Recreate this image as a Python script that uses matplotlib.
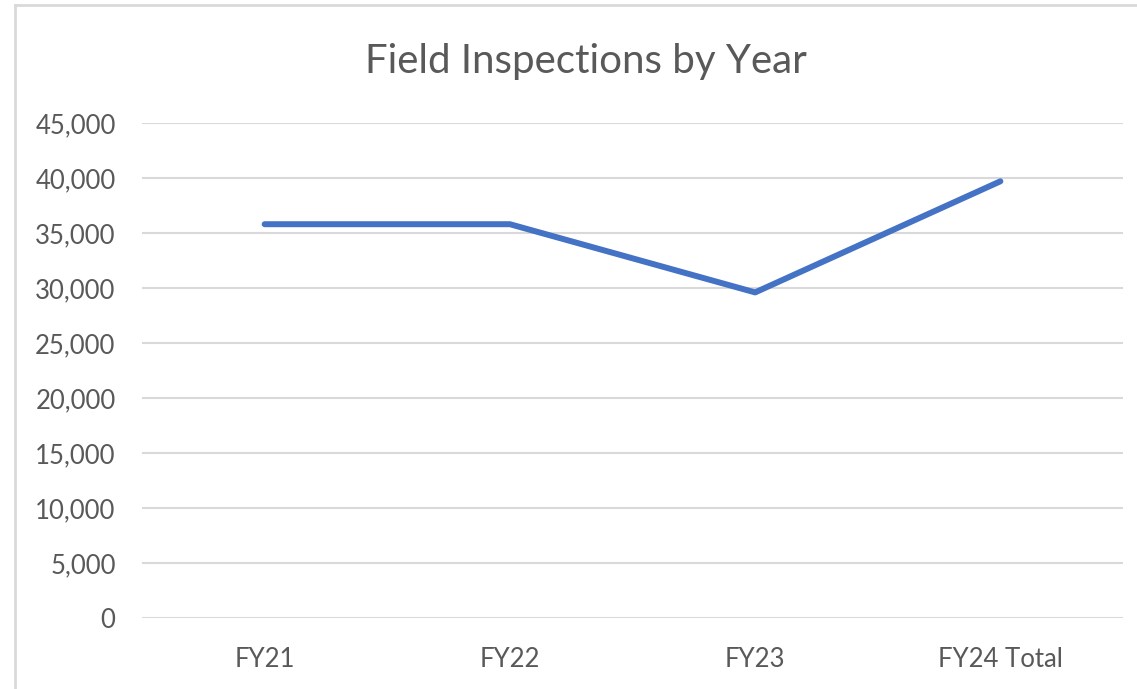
import matplotlib
matplotlib.use("Agg")
import matplotlib.pyplot as plt
from matplotlib.ticker import FuncFormatter
from matplotlib.lines import Line2D

categories = ["FY21", "FY22", "FY23", "FY24 Total"]
inspections = [35800, 35800, 29600, 39700]
y_ticks = [0, 5000, 10000, 15000, 20000, 25000, 30000, 35000, 40000, 45000]

W, H = 1137, 689
text_color = "#595959"
grid_color = "#d9d9d9"
plt.rcParams["font.family"] = ["Lato", "DejaVu Sans"]

fig = plt.figure(figsize=(W / 100, H / 100), dpi=100)
fig.patch.set_facecolor("white")

# chart frame (only left and top edges are visible in the crop)
fig.add_artist(Line2D([15 / W, 15 / W], [0, 1 - 5 / H], color=grid_color, lw=2))
fig.add_artist(Line2D([15 / W, 1], [1 - 5 / H, 1 - 5 / H], color=grid_color, lw=2))

left, right, top, bottom = 142, 1123, 123, 618
ax = fig.add_axes([left / W, 1 - bottom / H, (right - left) / W, (bottom - top) / H])

for y in y_ticks:
    ax.axhline(y, color=grid_color, lw=1.5, zorder=1)

x = range(len(categories))
ax.plot(x, inspections, color="#4472C4", lw=4.3, solid_capstyle="round",
        solid_joinstyle="round", zorder=3, clip_on=False)

ax.set_xlim(-0.5, len(categories) - 0.5)
ax.set_ylim(0, 45000)
ax.set_yticks(y_ticks)
ax.yaxis.set_major_formatter(FuncFormatter(lambda v, p: f"{int(v):,}"))
ax.set_xticks(list(x))
ax.set_xticklabels(categories)
ax.tick_params(length=0, labelsize=18.5, colors=text_color)
ax.tick_params(axis="y", pad=19)
ax.tick_params(axis="x", pad=21)
for s in ax.spines.values():
    s.set_visible(False)

fig.text(586 / W, 1 - 61 / H, "Field Inspections by Year", ha="center", va="center",
         fontsize=29, color=text_color)

fig.savefig("out.png", dpi=100, facecolor="white")
